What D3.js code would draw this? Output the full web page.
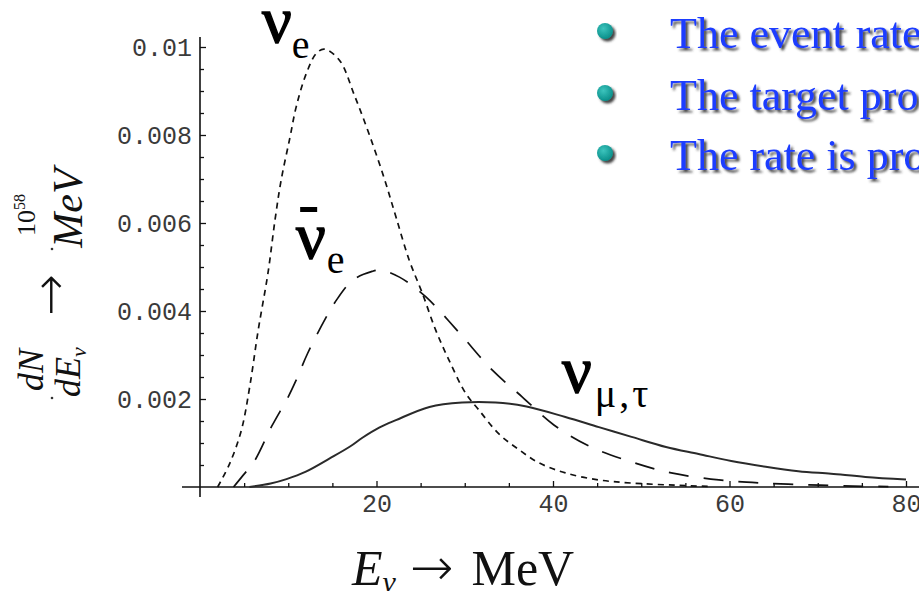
<!DOCTYPE html>
<html>
<head>
<meta charset="utf-8">
<script src="https://cdn.jsdelivr.net/npm/d3@7"></script>
<style>
  html, body { margin: 0; padding: 0; background: #fff; overflow: hidden; }
  svg { display: block; }
</style>
</head>
<body>
<svg id="chart" width="919" height="591"></svg>
<script>
// ---------- data ----------
const nueE   = [2, 3.4, 4.7, 5.65, 6.6, 7.7, 8.5, 9.2, 10.2, 10.9, 12.05, 13.2, 14.1, 15.8, 17.5, 19.2, 20.9, 22.2, 23.7, 25.2, 26.7, 28.2, 30.1, 31.6, 33.9, 36.2, 38.4, 41.4, 45.2, 48.9, 53.9, 58];
const nueV   = [0, 0.00055, 0.0013, 0.0023, 0.00357, 0.00486, 0.00607, 0.00698, 0.00795, 0.00864, 0.0094, 0.00986, 0.00995, 0.0097, 0.0089, 0.0080, 0.0070, 0.00614, 0.00516, 0.0044, 0.00357, 0.00289, 0.00213, 0.00175, 0.0012, 0.00084, 0.00055, 0.00032, 0.00016, 0.00009, 0.00004, 0.00001];

const nuebarE = [3.8, 4.9, 6.2, 8.1, 10, 10.9, 12.2, 14.3, 15.3, 17.3, 19.5, 20.5, 22.6, 25.6, 29.4, 33.1, 36.5, 40.1, 44.3, 48.9, 53.4, 58.8, 63.6, 68.9, 74, 78];
const nuebarV = [0, 0.00027, 0.0006, 0.00137, 0.00205, 0.00243, 0.00304, 0.00386, 0.0042, 0.0047, 0.0049, 0.00493, 0.00477, 0.00432, 0.0035, 0.00266, 0.00205, 0.00141, 0.00091, 0.00057, 0.00032, 0.00016, 0.00009, 0.00005, 0.00002, 0.00001];

const numuE = [5.6, 8, 9.8, 12, 14.7, 17, 18.4, 20.3, 22.2, 26, 29.7, 33.5, 37, 41.4, 45.2, 48.9, 52.8, 56.5, 60.2, 64.1, 67.8, 71.5, 75.4, 80];
const numuV = [0, 0.00008, 0.00018, 0.00035, 0.00065, 0.00092, 0.00112, 0.00135, 0.00152, 0.00182, 0.00192, 0.00192, 0.00183, 0.00159, 0.00136, 0.00114, 0.00091, 0.00075, 0.00059, 0.00046, 0.00036, 0.0003, 0.00023, 0.00017];

const xTickValues = [20, 40, 60, 80];
const xTickLabels = ["20", "40", "60", "80"];
const xMinorTicks = [5, 10, 15, 25, 30, 35, 45, 50, 55, 65, 70, 75];
const yTickValues = [0.002, 0.004, 0.006, 0.008, 0.01];
const yTickLabels = ["0.002", "0.004", "0.006", "0.008", "0.01"];
const yMinorTicks = [0.0005, 0.001, 0.0015, 0.0025, 0.003, 0.0035, 0.0045, 0.005, 0.0055, 0.0065, 0.007, 0.0075, 0.0085, 0.009, 0.0095];

const bullets = ["The event rate", "The target pro", "The rate is pro"];

// ---------- scales ----------
const svg = d3.select("#chart");
const x = d3.scaleLinear().domain([0, 80]).range([200, 906]);
const y = d3.scaleLinear().domain([0, 0.01]).range([487, 47]);

const defs = svg.append("defs");
const f = defs.append("filter").attr("id", "shadow").attr("x", "-10%").attr("y", "-10%").attr("width", "130%").attr("height", "140%");
f.append("feDropShadow").attr("dx", 2.5).attr("dy", 2.5).attr("stdDeviation", 0.8).attr("flood-color", "#333").attr("flood-opacity", 0.9);
const rg = defs.append("radialGradient").attr("id", "ball").attr("cx", "40%").attr("cy", "35%").attr("r", "65%");
rg.append("stop").attr("offset", "0%").attr("stop-color", "#3cc4bd");
rg.append("stop").attr("offset", "100%").attr("stop-color", "#0a8f8a");

// ---------- axes ----------
const axisColor = "#111";
svg.append("line").attr("x1", 182).attr("x2", 919).attr("y1", y(0)).attr("y2", y(0))
  .attr("stroke", axisColor).attr("stroke-width", 1.6);
svg.append("line").attr("x1", x(0)).attr("x2", x(0)).attr("y1", 37).attr("y2", 497)
  .attr("stroke", axisColor).attr("stroke-width", 1.6);

const tickFont = "'Liberation Mono', 'DejaVu Sans Mono', monospace";

const yAxis = svg.append("g").attr("transform", `translate(${x(0)},0)`)
  .call(d3.axisLeft(y).tickValues(yTickValues).tickFormat((d, i) => yTickLabels[i])
    .tickSize(-6).tickSizeOuter(0).tickPadding(8));
const yMinor = svg.append("g").attr("transform", `translate(${x(0)},0)`)
  .call(d3.axisLeft(y).tickValues(yMinorTicks).tickFormat("").tickSize(-4).tickSizeOuter(0));
const xAxis = svg.append("g").attr("transform", `translate(0,${y(0)})`)
  .call(d3.axisBottom(x).tickValues(xTickValues).tickFormat((d, i) => xTickLabels[i])
    .tickSize(-6).tickSizeOuter(0).tickPadding(7));
const xMinor = svg.append("g").attr("transform", `translate(0,${y(0)})`)
  .call(d3.axisBottom(x).tickValues(xMinorTicks).tickFormat("").tickSize(-4).tickSizeOuter(0));

[yAxis, yMinor, xAxis, xMinor].forEach(g => {
  g.select(".domain").remove();
  g.selectAll(".tick line").attr("stroke", axisColor).attr("stroke-width", 1.3);
  g.selectAll(".tick text").attr("font-family", tickFont).attr("font-size", 25)
    .attr("fill", "#3a3a3a");
});

// ---------- curves ----------
const line = d3.line().x(d => x(d[0])).y(d => y(d[1])).curve(d3.curveCatmullRom.alpha(0.5));
const zip = (a, b) => a.map((v, i) => [v, b[i]]);

svg.append("path").datum(zip(numuE, numuV)).attr("d", line)
  .attr("fill", "none").attr("stroke", "#2a2a2a").attr("stroke-width", 2);
svg.append("path").datum(zip(nuebarE, nuebarV)).attr("d", line)
  .attr("fill", "none").attr("stroke", "#111").attr("stroke-width", 1.7)
  .attr("stroke-dasharray", "20,15");
svg.append("path").datum(zip(nueE, nueV)).attr("d", line)
  .attr("fill", "none").attr("stroke", "#111").attr("stroke-width", 1.7)
  .attr("stroke-dasharray", "6,5");

// ---------- curve labels ----------
const serif = "'Liberation Serif', 'Times New Roman', serif";
function nuLabel(xp, yb, sub, subSize, subDx, subDy, ls) {
  const t = svg.append("text").attr("x", xp).attr("y", yb)
    .attr("font-family", serif).attr("font-size", 66).attr("fill", "#000");
  t.append("tspan").attr("stroke", "#000").attr("stroke-width", 1.4).text("ν");
  t.append("tspan").attr("dx", subDx).attr("dy", subDy).attr("font-size", subSize)
    .attr("letter-spacing", ls || 0).text(sub);
  return t;
}
nuLabel(262, 42, "e", 40, 0, 16);
nuLabel(296, 258, "e", 40, 1, 15);
svg.append("rect").attr("x", x(11.35)).attr("y", 207).attr("width", 17).attr("height", 5).attr("fill", "#000");
nuLabel(562, 392, "μ,τ", 40, 3, 15, 3);

// ---------- x title ----------
const xt = svg.append("text").attr("x", 352).attr("y", 585)
  .attr("font-family", serif).attr("font-size", 50).attr("fill", "#111");
xt.append("tspan").attr("font-style", "italic").text("E");
xt.append("tspan").attr("font-style", "italic").attr("font-size", 30).attr("dy", 7).text("ν");
xt.append("tspan").attr("dy", -7).attr("dx", 14).attr("font-family", "'DejaVu Sans', sans-serif")
  .attr("font-size", 52).attr("font-weight", 300).text("→");
xt.append("tspan").attr("dx", 18).text("MeV");

// ---------- y title (rotated) ----------
const yt = svg.append("g").attr("transform", "translate(52,283) rotate(-90)")
  .attr("font-family", serif).attr("fill", "#111");
yt.append("text").attr("x", -87).attr("y", -9).attr("text-anchor", "middle")
  .attr("font-size", 36).attr("font-style", "italic").text("dN");
const den = yt.append("text").attr("x", -114).attr("y", 28).attr("font-size", 36).attr("font-style", "italic");
den.append("tspan").text("dE");
den.append("tspan").attr("font-size", 22).attr("dy", 6).text("ν");
yt.append("text").attr("x", -12).attr("y", 0).attr("dy", "0.3em").attr("text-anchor", "middle")
  .attr("font-family", "'DejaVu Sans', sans-serif").attr("font-weight", 300)
  .attr("font-size", 50).text("→");
const num = yt.append("text").attr("x", 47).attr("y", -17).attr("font-size", 26);
num.append("tspan").text("10");
num.append("tspan").attr("font-size", 16).attr("dy", -10).text("58");
yt.append("text").attr("x", 75).attr("y", 30).attr("text-anchor", "middle")
  .attr("font-size", 42).attr("font-style", "italic").text("MeV");
yt.append("circle").attr("cx", -115).attr("cy", 0).attr("r", 1.3).attr("fill", "#333");
yt.append("circle").attr("cx", 34).attr("cy", 0).attr("r", 1.3).attr("fill", "#333");

// ---------- bullet text ----------
const rowBase = [48, 110, 170];
bullets.forEach((s, i) => {
  svg.append("circle").attr("cx", 605).attr("cy", rowBase[i] - 17).attr("r", 8)
    .attr("fill", "url(#ball)").attr("filter", "url(#shadow)");
  svg.append("text").attr("x", 670).attr("y", rowBase[i])
    .attr("font-family", serif).attr("font-size", 44).attr("fill", "#1b3cff")
    .attr("filter", "url(#shadow)").text(s);
});
</script>
</body>
</html>
